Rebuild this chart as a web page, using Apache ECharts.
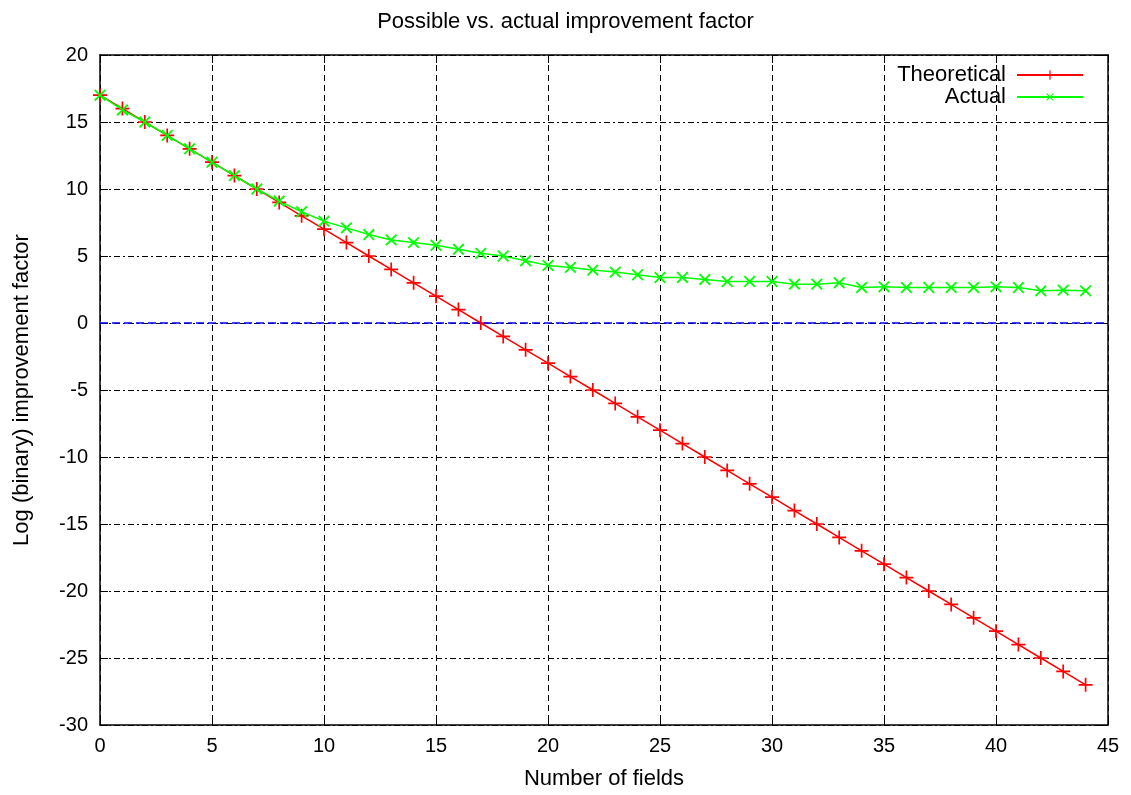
<!DOCTYPE html>
<html lang="en">

<head>
    <meta charset="UTF-8">
    <title>Possible vs. actual improvement factor</title>
    <script src="https://cdn.jsdelivr.net/npm/echarts@6/dist/echarts.min.js"></script>
    <style>
        html, body { margin: 0; padding: 0; background: #fff; }
        #chart { width: 1131px; height: 795px; }
    </style>
</head>

<body>
    <div id="chart"></div>

    <script>
        // values
        var fields = [0, 1, 2, 3, 4, 5, 6, 7, 8, 9, 10, 11, 12, 13, 14, 15, 16, 17, 18, 19, 20, 21,
            22, 23, 24, 25, 26, 27, 28, 29, 30, 31, 32, 33, 34, 35, 36, 37, 38, 39, 40, 41, 42, 43, 44];
        var theoretical = [17, 16, 15, 14, 13, 12, 11, 10, 9, 8, 7, 6, 5, 4, 3, 2, 1, 0, -1, -2, -3, -4,
            -5, -6, -7, -8, -9, -10, -11, -12, -13, -14, -15, -16, -17, -18, -19, -20, -21, -22, -23, -24, -25, -26, -27];
        var actual = [17, 15.9, 15, 14, 13, 12, 11, 10, 9.1, 8.3, 7.6, 7.1, 6.6, 6.2, 6.0, 5.8, 5.5, 5.2, 5.0, 4.65, 4.3, 4.15,
            3.95, 3.8, 3.6, 3.4, 3.4, 3.25, 3.1, 3.1, 3.1, 2.9, 2.9, 3.0, 2.65, 2.7, 2.65, 2.65, 2.65, 2.65, 2.7, 2.65, 2.4, 2.45, 2.4];

        function pairs(xs, ys) {
            return xs.map(function (x, i) { return [x, ys[i]]; });
        }

        var plus = 'path://M-1,-0.12L-0.12,-0.12L-0.12,-1L0.12,-1L0.12,-0.12L1,-0.12L1,0.12L0.12,0.12L0.12,1L-0.12,1L-0.12,0.12L-1,0.12Z';
        var font = 'Liberation Sans';

        var chartDom = document.getElementById('chart');
        var myChart = echarts.init(chartDom);
        var option;

        var tickStyle = { inside: true, length: 8, lineStyle: { color: '#000', width: 1 } };
        var axisLine = { show: true, onZero: false, lineStyle: { color: '#000', width: 1.5 } };

        option = {
            backgroundColor: '#fff',
            animation: false,
            title: {
                text: 'Possible vs. actual improvement factor',
                left: 'center',
                top: 6,
                textStyle: { fontFamily: font, fontSize: 22, fontWeight: 'normal', color: '#000' }
            },
            legend: {
                right: 42,
                top: 59,
                orient: 'vertical',
                align: 'right',
                itemWidth: 66,
                itemHeight: 12,
                itemGap: 0,
                textStyle: { fontFamily: font, fontSize: 22, color: '#000', padding: [0, 6, 0, 0] },
                data: ['Theoretical', 'Actual']
            },
            grid: { left: 100, right: 23, top: 55, bottom: 70 },
            xAxis: [{
                type: 'value',
                min: 0,
                max: 45,
                interval: 5,
                name: 'Number of fields',
                nameLocation: 'middle',
                nameGap: 43,
                nameTextStyle: { fontFamily: font, fontSize: 22, color: '#000' },
                axisLine: axisLine,
                axisTick: tickStyle,
                axisLabel: { fontFamily: font, fontSize: 20, color: '#000', margin: 11 },
                splitLine: { show: true, lineStyle: { color: '#000', width: 1, type: [6, 4] } }
            }, {
                type: 'value',
                position: 'top',
                min: 0,
                max: 45,
                interval: 5,
                axisLine: axisLine,
                axisTick: tickStyle,
                axisLabel: { show: false },
                splitLine: { show: false }
            }],
            yAxis: [{
                type: 'value',
                min: -30,
                max: 20,
                interval: 5,
                name: 'Log (binary) improvement factor',
                nameLocation: 'middle',
                nameGap: 67,
                nameTextStyle: { fontFamily: font, fontSize: 22, color: '#000' },
                axisLine: axisLine,
                axisTick: tickStyle,
                axisLabel: { fontFamily: font, fontSize: 20, color: '#000', margin: 12 },
                splitLine: { show: true, lineStyle: { color: '#000', width: 1, type: [6, 3, 2, 3] } }
            }, {
                type: 'value',
                position: 'right',
                min: -30,
                max: 20,
                interval: 5,
                axisLine: axisLine,
                axisTick: tickStyle,
                axisLabel: { show: false },
                splitLine: { show: false }
            }],
            series: [
                {
                    name: 'Theoretical',
                    type: 'line',
                    data: pairs(fields, theoretical),
                    symbol: plus,
                    symbolSize: 14,
                    showAllSymbol: true,
                    lineStyle: { color: '#ff0000', width: 1.5 },
                    itemStyle: { color: '#ff0000' },
                    markLine: {
                        silent: true,
                        symbol: 'none',
                        label: { show: false },
                        lineStyle: { color: '#0000ff', width: 1.5, type: [8, 4] },
                        data: [{ yAxis: 0 }]
                    }
                },
                {
                    name: 'Actual',
                    type: 'line',
                    data: pairs(fields, actual),
                    symbol: plus,
                    symbolSize: 15,
                    symbolRotate: 45,
                    showAllSymbol: true,
                    lineStyle: { color: '#00ff00', width: 1.5 },
                    itemStyle: { color: '#00ff00' }
                }
            ]
        };

        option && myChart.setOption(option);
    </script>

</body>

</html>
